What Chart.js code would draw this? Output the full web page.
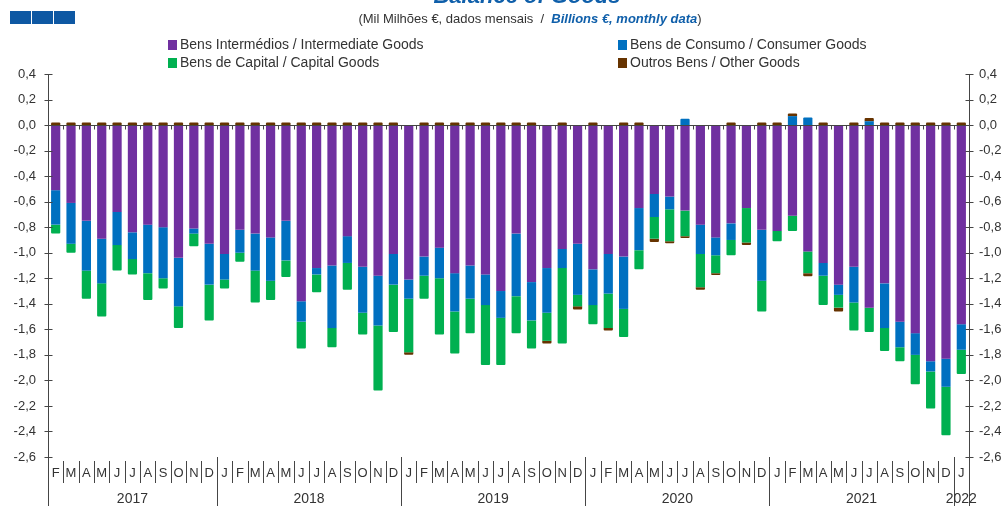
<!DOCTYPE html>
<html>
<head>
<meta charset="utf-8">
<script src="https://cdn.jsdelivr.net/npm/chart.js@4.4.1/dist/chart.umd.min.js"></script>
<style>
	body { margin: 0; background: #fff; }
	#wrap { width: 1007px; height: 506px; position: relative; }
</style>
</head>
<body>
<div id="wrap"><canvas id="goods_chart"></canvas></div>
<script>
"use strict";

// Feb 2017 .. Jan 2022
const monthLabels = [
	"F", "M", "A", "M", "J", "J", "A", "S", "O", "N", "D",
	"J", "F", "M", "A", "M", "J", "J", "A", "S", "O", "N", "D",
	"J", "F", "M", "A", "M", "J", "J", "A", "S", "O", "N", "D",
	"J", "F", "M", "A", "M", "J", "J", "A", "S", "O", "N", "D",
	"J", "F", "M", "A", "M", "J", "J", "A", "S", "O", "N", "D",
	"J",
];
const yearLabels = ["2017", "2018", "2019", "2020", "2021", "2022"];
const monthsPerYear = [11, 12, 12, 12, 12, 1];

const intermediateGoods = [
	-0.51, -0.61, -0.75, -0.89, -0.68, -0.84, -0.78, -0.8, -1.04, -0.81, -0.93,
	-1.01, -0.82, -0.85, -0.88, -0.75, -1.38, -1.12, -1.1, -0.87, -1.11, -1.18, -1.01,
	-1.21, -1.03, -0.96, -1.16, -1.1, -1.17, -1.3, -0.85, -1.23, -1.12, -0.97, -0.93,
	-1.13, -1.01, -1.03, -0.65, -0.54, -0.56, -0.67, -0.78, -0.88, -0.77, -0.65, -0.82,
	-0.83, -0.71, -0.99, -1.08, -1.25, -1.11, -1.43, -1.24, -1.54, -1.63, -1.85, -1.83,
	-1.56,
];
const consumerGoods = [
	-0.27, -0.32, -0.39, -0.35, -0.26, -0.21, -0.38, -0.4, -0.38, -0.04, -0.32,
	-0.2, -0.18, -0.29, -0.34, -0.31, -0.16, -0.05, -0.49, -0.21, -0.36, -0.39, -0.24,
	-0.15, -0.15, -0.24, -0.3, -0.26, -0.24, -0.21, -0.49, -0.3, -0.35, -0.15, -0.4,
	-0.28, -0.31, -0.41, -0.33, -0.18, -0.1, 0.05, -0.23, -0.14, -0.13, 0, -0.4,
	0, 0.07, 0.06, -0.1, -0.08, -0.28, 0.03, -0.35, -0.2, -0.17, -0.08, -0.22,
	-0.2,
];
const capitalGoods = [
	-0.07, -0.07, -0.22, -0.26, -0.2, -0.12, -0.21, -0.08, -0.17, -0.1, -0.28,
	-0.07, -0.07, -0.25, -0.15, -0.13, -0.21, -0.14, -0.15, -0.21, -0.17, -0.51, -0.37,
	-0.42, -0.18, -0.44, -0.33, -0.27, -0.47, -0.37, -0.29, -0.22, -0.22, -0.59, -0.09,
	-0.15, -0.27, -0.22, -0.15, -0.17, -0.25, -0.2, -0.26, -0.14, -0.12, -0.27, -0.24,
	-0.08, -0.12, -0.17, -0.23, -0.1, -0.22, -0.19, -0.18, -0.11, -0.23, -0.29, -0.38,
	-0.19,
];
const otherGoods = [
	0.02, 0.02, 0.02, 0.02, 0.02, 0.02, 0.02, 0.02, 0.02, 0.02, 0.02,
	0.02, 0.02, 0.02, 0.02, 0.02, 0.02, 0.02, 0.02, 0.02, 0.02, 0.02, 0.02,
	-0.02, 0.02, 0.02, 0.02, 0.02, 0.02, 0.02, 0.02, 0.02, -0.02, 0.02, -0.025,
	0.02, -0.02, 0.02, 0.02, -0.025, -0.015, -0.015, -0.02, -0.015, 0.02, -0.02, 0.02,
	0.02, 0.02, -0.025, 0.02, -0.03, 0.02, 0.025, 0.02, 0.02, 0.02, 0.02, 0.02,
	0.02,
];

const FONT = "'Liberation Sans', Arial, sans-serif";
const TEXT = "#333333";
const AXIS = "#454545";
const BLUE_TITLE = "#0F5FAA";

const fmtTick = (v) => {
	const r = Math.round(v * 10) / 10;
	return (r === 0 ? 0 : r).toFixed(1).replace(".", ",");
};

const headerPlugin = {
	id: "header",
	afterDraw(chart) {
		const c = chart.ctx;
		c.save();
		// logo squares
		c.fillStyle = "#0E58A3";
		[10, 32, 54].forEach((x) => c.fillRect(x, 11, 21, 13));

		// title (cut off at the top)
		c.fillStyle = BLUE_TITLE;
		c.font = "italic bold 22px " + FONT;
		c.textAlign = "center";
		c.textBaseline = "alphabetic";
		c.fillText("Balance of Goods", 527, 3);

		// subtitle
		const p1 = "(Mil Milhões €, dados mensais  /  ";
		const p2 = "Billions €, monthly data";
		const p3 = ")";
		c.textAlign = "left";
		c.textBaseline = "middle";
		c.font = "13px " + FONT;
		const w1 = c.measureText(p1).width;
		const w3 = c.measureText(p3).width;
		c.font = "italic bold 13px " + FONT;
		const w2 = c.measureText(p2).width;
		let x = 530 - (w1 + w2 + w3) / 2;
		c.font = "13px " + FONT;
		c.fillStyle = TEXT;
		c.fillText(p1, x, 19);
		c.font = "italic bold 13px " + FONT;
		c.fillStyle = BLUE_TITLE;
		c.fillText(p2, x + w1, 19);
		c.font = "13px " + FONT;
		c.fillStyle = TEXT;
		c.fillText(p3, x + w1 + w2, 19);

		// legend 2x2
		const spots = [
			[168, 45],
			[618, 45],
			[168, 63],
			[618, 63],
		];
		c.font = "14px " + FONT;
		chart.data.datasets.forEach((ds, k) => {
			const [lx, ly] = spots[k];
			c.fillStyle = ds.backgroundColor;
			c.fillRect(lx, ly - 5, 9, 10);
			c.fillStyle = TEXT;
			c.fillText(ds.label, lx + 12, ly);
		});
		c.restore();
	},
};

const axisPlugin = {
	id: "customAxes",
	afterDatasetsDraw(chart) {
		const c = chart.ctx;
		const area = chart.chartArea;
		const xs = chart.scales.x;
		const ys = chart.scales.y;
		const catW = (area.right - area.left) / monthLabels.length;
		const px = (v) => Math.round(v) + 0.5;
		const y0 = px(ys.getPixelForValue(0));
		const H = chart.height;

		c.save();
		c.strokeStyle = AXIS;
		c.lineWidth = 1;

		// zero line with small ticks between months
		c.beginPath();
		c.moveTo(area.left, y0);
		c.lineTo(area.right, y0);
		for (let i = 1; i < monthLabels.length; i++) {
			const bx = px(xs.getPixelForValue(i) - catW / 2);
			c.moveTo(bx, y0);
			c.lineTo(bx, y0 + 4);
		}
		c.stroke();

		// vertical axes running to the bottom
		const lx = px(area.left);
		const rx = px(area.right);
		c.beginPath();
		c.moveTo(lx, area.top);
		c.lineTo(lx, H);
		c.moveTo(rx, area.top);
		c.lineTo(rx, H);
		ys.ticks.forEach((t) => {
			const ty = px(ys.getPixelForValue(t.value));
			c.moveTo(lx - 4, ty);
			c.lineTo(lx + 4, ty);
			c.moveTo(rx - 4, ty);
			c.lineTo(rx + 4, ty);
		});
		c.stroke();

		// month labels and separators
		c.fillStyle = TEXT;
		c.font = "13px " + FONT;
		c.textAlign = "center";
		c.textBaseline = "middle";
		const yearStarts = [];
		let acc = 0;
		monthsPerYear.forEach((n) => {
			yearStarts.push(acc);
			acc += n;
		});
		c.beginPath();
		monthLabels.forEach((m, i) => {
			const cx = xs.getPixelForValue(i);
			c.fillText(m, cx, 473);
			if (i > 0) {
				const bx = px(cx - catW / 2);
				if (yearStarts.includes(i)) {
					c.moveTo(bx, area.bottom);
					c.lineTo(bx, H);
				} else {
					c.moveTo(bx, area.bottom + 4);
					c.lineTo(bx, area.bottom + 26);
				}
			}
		});
		c.stroke();

		// year labels
		c.font = "14px " + FONT;
		yearLabels.forEach((yl, k) => {
			const first = yearStarts[k];
			const last = first + monthsPerYear[k] - 1;
			const cx = (xs.getPixelForValue(first) + xs.getPixelForValue(last)) / 2;
			c.fillText(yl, cx, 499);
		});
		c.restore();
	},
};

const yTicks = (pad) => ({
	stepSize: 0.2,
	padding: pad,
	color: TEXT,
	font: { size: 13, family: FONT },
	callback: fmtTick,
});

new Chart(document.getElementById("goods_chart"), {
	type: "bar",
	data: {
		labels: monthLabels,
		datasets: [
			{
				label: "Bens Intermédios / Intermediate Goods",
				data: intermediateGoods,
				backgroundColor: "#7030A0",
			},
			{
				label: "Bens de Consumo / Consumer Goods",
				data: consumerGoods,
				backgroundColor: "#0070C0",
			},
			{
				label: "Bens de Capital / Capital Goods",
				data: capitalGoods,
				backgroundColor: "#00B050",
			},
			{
				label: "Outros Bens / Other Goods",
				data: otherGoods,
				backgroundColor: "#663300",
			},
		],
	},
	options: {
		responsive: true,
		maintainAspectRatio: false,
		animation: false,
		layout: { padding: { top: 74, bottom: 49, left: 0, right: 0 } },
		datasets: {
			bar: { categoryPercentage: 1, barPercentage: 0.6, borderRadius: 1 },
		},
		plugins: {
			legend: { display: false },
			tooltip: { enabled: false },
			title: { display: false },
		},
		scales: {
			x: { stacked: true, display: false },
			y: {
				stacked: true,
				min: -2.6,
				max: 0.4,
				ticks: yTicks(12),
				grid: { display: false, drawTicks: false },
				border: { display: false },
				afterFit(s) {
					s.width = 48;
				},
			},
			y2: {
				position: "right",
				min: -2.6,
				max: 0.4,
				ticks: yTicks(10),
				grid: { display: false, drawTicks: false },
				border: { display: false },
				afterFit(s) {
					s.width = 38;
				},
			},
		},
	},
	plugins: [headerPlugin, axisPlugin],
});
</script>
</body>
</html>
